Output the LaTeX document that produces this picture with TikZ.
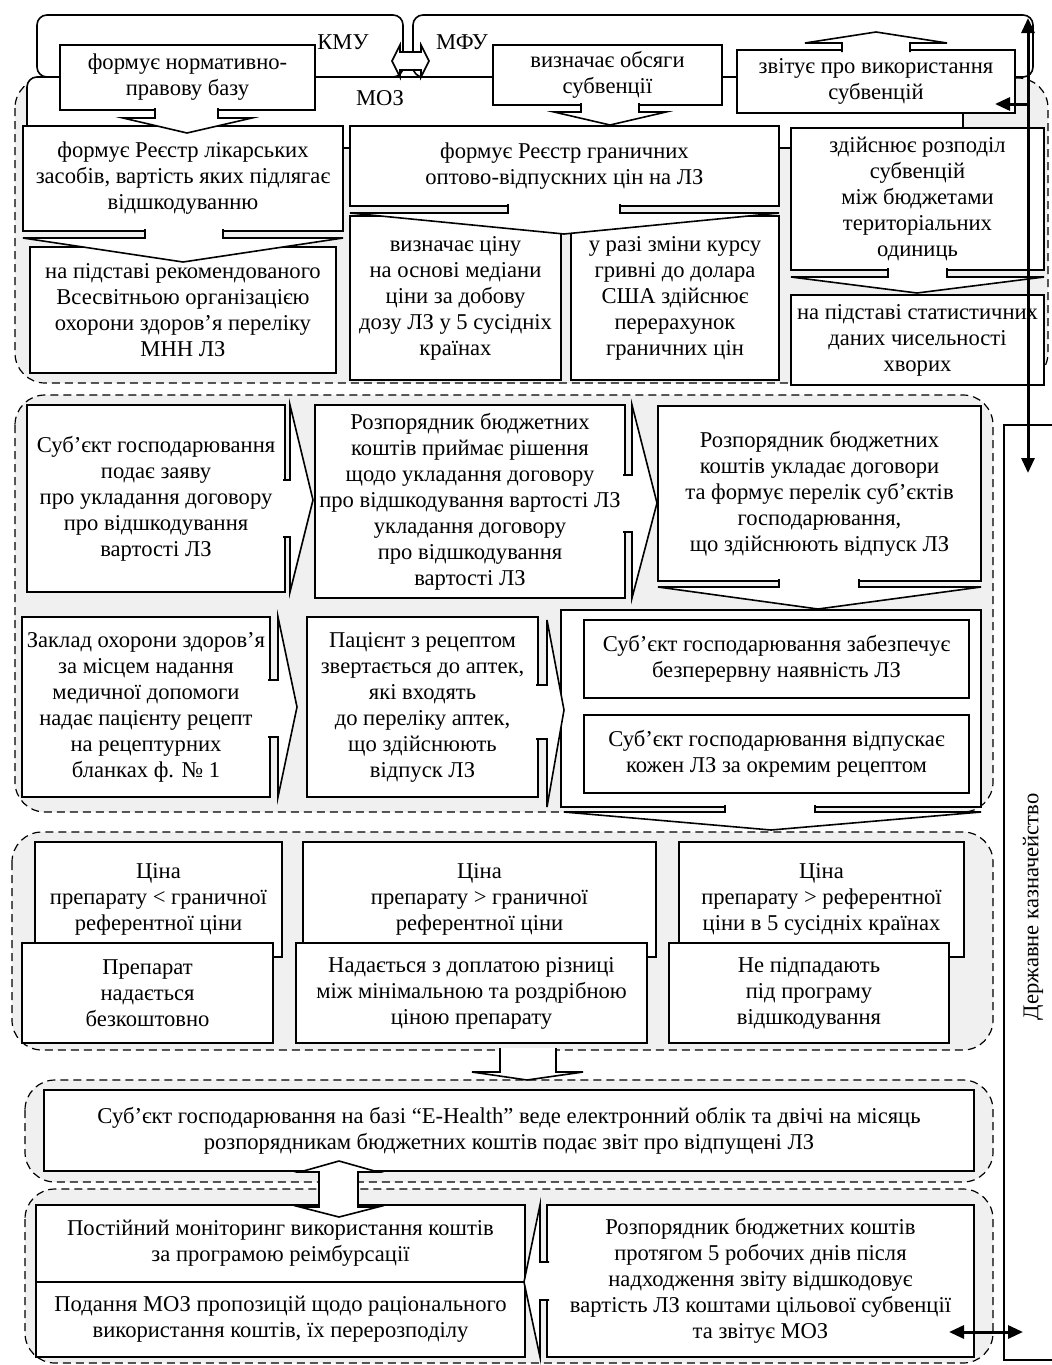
\documentclass[tikz,border=0pt]{standalone}
\usepackage{fontspec}
\setmainfont{Liberation Serif}
\usetikzlibrary{arrows.meta}

\begin{document}
\begin{tikzpicture}[x=0.5pt,y=0.5pt,yscale=-1,xscale=1,
  box/.style={draw, fill=white, line width=0.8pt, align=center, inner sep=1pt, font=\fontsize{11.3}{13}\selectfont},
  lbl/.style={inner sep=0pt, font=\fontsize{11.3}{13}\selectfont},
  frame/.style={draw, line width=0.8pt, rounded corners=5pt},
  zone/.style={draw, fill=black!6, line width=0.6pt, dash pattern=on 4pt off 2.5pt, rounded corners=15pt},
  blockarrow/.style={draw, fill=white, line width=0.8pt},
  thickarrow/.style={line width=1.5pt, -{Triangle[length=7.5pt,width=6.5pt]}},
  dblarrow/.style={line width=1.5pt, {Triangle[length=7.5pt,width=6.5pt]}-{Triangle[length=7.5pt,width=6.5pt]}}]

\useasboundingbox (0,0) rectangle (1052,1365);

%Shape: Rounded Rectangle (grey zones)
\draw[zone] (15,78) rectangle (1048,383);
\draw[zone] (15,395) rectangle (993,812);
\draw[zone] (12,832) rectangle (993,1050);
\draw[zone] (25,1080) rectangle (993,1182);
\draw[zone] (25,1189) rectangle (993,1363);

%Shape: Frames of KMU, MFU, MOZ
\draw[frame, fill=white] (27,148) -- (27,77) -- (963,77) -- (963,148) -- cycle;
\draw[frame] (37,15) rectangle (403,77);
\draw[frame] (413,15) rectangle (1033,77);

%Shape: Rectangle (top row)
\node[box, minimum width=127.5pt, minimum height=32.5pt] (frmnorm) at (187.5,77.5) {формує нормативно-\\правову базу};
\node[box, minimum width=114.5pt, minimum height=30pt] (vyzn) at (607.5,75) {визначає обсяги\\субвенції};
\node[box, minimum width=139pt, minimum height=31.5pt] (zvit) at (876,81.5) {звітує про використання\\субвенцій};

%Shape: Rectangle (MOZ)
\node[box, minimum width=160pt, minimum height=52.5pt] (reestr) at (183,178.5) {формує Реєстр лікарських\\засобів, вартість яких підлягає\\відшкодуванню};
\node[box, minimum width=214.5pt, minimum height=40pt] (granych) at (564.5,166) {формує Реєстр граничних\\оптово-відпускних цін на ЛЗ};
\node[box, minimum width=126.5pt, minimum height=71pt] (rozpod) at (917.5,199) {здійснює розподіл\\субвенцій\\між бюджетами\\територіальних\\одиниць};
\node[box, minimum width=153pt, minimum height=63pt] (mnn) at (183,310) {на підставі рекомендованого\\Всесвітньою організацією\\охорони здоров’я переліку\\МНН ЛЗ};
\node[box, minimum width=105.5pt, minimum height=82pt] (mediana) at (455.5,298) {визначає ціну\\на основі медіани\\ціни за добову\\дозу ЛЗ у 5 сусідніх\\країнах};
\node[box, minimum width=104pt, minimum height=82pt] (kurs) at (675,298) {у разі зміни курсу\\гривні до долара\\США здійснює\\перерахунок\\граничних цін};
\node[box, minimum width=126.5pt, minimum height=45pt] (statyst) at (917.5,340) {на підставі статистичних\\даних чисельності\\хворих};

%Shape: Rectangle (contracts)
\node[box, minimum width=129pt, minimum height=93.5pt] (zayava) at (156,498.5) {Суб’єкт господарювання\\подає заяву\\про укладання договору\\про відшкодування\\вартості ЛЗ};
\node[box, minimum width=155pt, minimum height=96.5pt] (rishennya) at (470,501.5) {Розпорядник бюджетних\\коштів приймає рішення\\щодо укладання договору\\про відшкодування вартості ЛЗ\\укладання договору\\про відшкодування\\вартості ЛЗ};
\node[box, minimum width=161.5pt, minimum height=87.5pt] (dogovory) at (819.5,493.5) {Розпорядник бюджетних\\коштів укладає договори\\та формує перелік суб’єктів\\господарювання,\\що здійснюють відпуск ЛЗ};
\node[box, minimum width=124pt, minimum height=90pt] (zaklad) at (146,707) {Заклад охорони здоров’я\\за місцем надання\\медичної допомоги\\надає пацієнту рецепт\\на рецептурних\\бланках ф. № 1};
\node[box, minimum width=115.5pt, minimum height=90pt] (patsient) at (422.5,707) {Пацієнт з рецептом\\звертається до аптек,\\які входять\\до переліку аптек,\\що здійснюють\\відпуск ЛЗ};
\node[box, minimum width=210pt, minimum height=98.5pt] (grp) at (771,708.5) {};
\node[box, minimum width=192.5pt, minimum height=39pt] (zabezp) at (776.5,659) {Суб’єкт господарювання забезпечує\\безперервну наявність ЛЗ};
\node[box, minimum width=192.5pt, minimum height=39pt] (vidpusk) at (776.5,754) {Суб’єкт господарювання відпускає\\кожен ЛЗ за окремим рецептом};

%Shape: Rectangle (prices)
\node[box, minimum width=123.5pt, minimum height=57.5pt] (tsina1) at (158.5,899.5) {Ціна\\препарату < граничної\\референтної ціни};
\node[box, minimum width=125.5pt, minimum height=50pt] (bezk) at (147.5,993) {Препарат\\надається\\безкоштовно};
\node[box, minimum width=176.5pt, minimum height=57.5pt] (tsina2) at (479.5,899.5) {Ціна\\препарату > граничної\\референтної ціни};
\node[box, minimum width=175.5pt, minimum height=50pt] (doplata) at (471.5,993) {Надається з доплатою різниці\\між мінімальною та роздрібною\\ціною препарату};
\node[box, minimum width=142.5pt, minimum height=57.5pt] (tsina3) at (821.5,899.5) {Ціна\\препарату > референтної\\ціни в 5 сусідніх країнах};
\node[box, minimum width=140pt, minimum height=50pt] (nepidp) at (809,993) {Не підпадають\\під програму\\відшкодування};

%Shape: Rectangle (report and control)
\node[box, minimum width=465pt, minimum height=40.5pt] (ehealth) at (509,1130.5) {Суб’єкт господарювання на базі “E-Health” веде електронний облік та двічі на місяць\\розпорядникам бюджетних коштів подає звіт про відпущені ЛЗ};
\node[box, minimum width=244.5pt, minimum height=38.5pt] (monitor) at (280.5,1243.5) {Постійний моніторинг використання коштів\\за програмою реімбурсації};
\node[box, minimum width=244.5pt, minimum height=37.5pt] (podannya) at (280.5,1319.5) {Подання МОЗ пропозицій щодо раціонального\\використання коштів, їх перерозподілу};
\node[box, minimum width=213.5pt, minimum height=76pt] (vidshkod) at (760.5,1281) {Розпорядник бюджетних коштів\\протягом 5 робочих днів після\\надходження звіту відшкодовує\\вартість ЛЗ коштами цільової субвенції\\та звітує МОЗ};

%Block Arrows
\draw[blockarrow] (392,61) -- (400,45) -- (400,52) -- (421,52) -- (421,45) -- (429,61) -- (421,77) -- (421,70) -- (400,70) -- (400,77) -- cycle;
\draw[blockarrow] (155,108) -- (155,118) -- (123,118) -- (187,133) -- (252,118) -- (218,118) -- (218,108);
\draw[blockarrow] (581,103) -- (581,112) -- (554,112) -- (610,125) -- (666,112) -- (639,112) -- (639,103);
\draw[blockarrow] (842,52) -- (842,43) -- (805,43) -- (876,32) -- (947,43) -- (910,43) -- (910,52);
\draw[blockarrow] (145,229) -- (145,238) -- (23,238) -- (183,262) -- (343,238) -- (223,238) -- (223,229);
\draw[blockarrow] (508,204) -- (508,213) -- (350,213) -- (564,234) -- (779,213) -- (620,213) -- (620,204);
\draw[blockarrow] (888,268) -- (888,277) -- (791,277) -- (917,293) -- (1044,277) -- (947,277) -- (947,268);

\draw[blockarrow] (283,480) -- (290,480) -- (290,405) -- (313,500) -- (290,592) -- (290,537) -- (283,537);
\draw[blockarrow] (623,475) -- (632,475) -- (632,405) -- (657,503) -- (632,598) -- (632,532) -- (623,532);
\draw[blockarrow] (779,579) -- (779,587) -- (658,587) -- (818,609) -- (981,587) -- (859,587) -- (859,579);
\draw[blockarrow] (268,680) -- (278,680) -- (278,617) -- (297,707) -- (278,797) -- (278,737) -- (268,737);
\draw[blockarrow] (536,685) -- (547,685) -- (547,620) -- (564,710) -- (547,807) -- (547,739) -- (536,739);
\draw[blockarrow] (725,805) -- (725,812) -- (564,812) -- (771,830) -- (981,812) -- (815,812) -- (815,805);

\draw[blockarrow] (500,1048) -- (500,1072) -- (472,1072) -- (527,1080) -- (583,1072) -- (556,1072) -- (556,1048);
\draw[blockarrow] (319,1172) -- (300,1172) -- (339,1161) -- (378,1172) -- (358,1172) -- (358,1207) -- (378,1207) -- (339,1217) -- (300,1207) -- (319,1207) -- cycle;
\draw[blockarrow] (549,1262) -- (540,1262) -- (540,1205) -- (524,1282) -- (540,1357) -- (540,1300) -- (549,1300);

% Text Node
\node[lbl] (kmu) at (343,42) {КМУ};
% Text Node
\node[lbl] (mfu) at (462,42) {МФУ};
% Text Node
\node[lbl] (moz) at (380,98) {МОЗ};

%Shape: Treasury frame
\draw[line width=0.8pt] (1052,425) -- (1004,425) -- (1004,1360) -- (1052,1360);
% Text Node
\node[lbl, rotate=90] (kazlbl) at (1033,907) {Державне казначейство};

%Straight Lines (thick arrows)
\coordinate (trtop) at (1028,18);
\coordinate (trbot) at (1028,473);
\coordinate (trmid) at (1028,104);
\coordinate (zvittip) at (995,104);
\coordinate (finl) at (949,1332);
\coordinate (finr) at (1023,1332);
\draw[dblarrow] (trbot) -- (trtop);
\draw[thickarrow] (trmid) -- (zvittip);
\draw[dblarrow] (finl) -- (finr);
\end{tikzpicture}
\end{document}
